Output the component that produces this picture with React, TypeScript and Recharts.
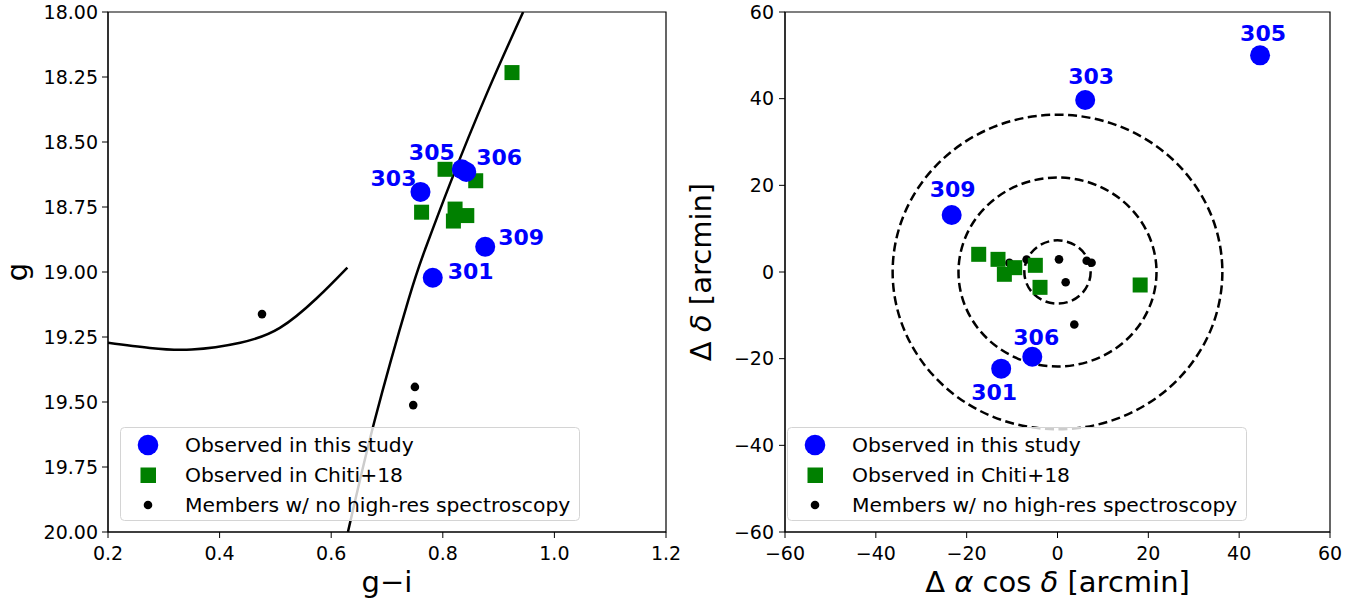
import { ComposedChart, Line, Scatter, XAxis, YAxis, ReferenceArea, Legend, Label } from 'recharts';

const FONT = 'DejaVu Sans';
const BLUE = '#0000ff';
const GREEN = '#008000';

// ---- left panel: colour-magnitude diagram ----
const cmdObserved = [
  { id: '301', x: 0.782, y: 19.022 },
  { id: '303', x: 0.760, y: 18.692 },
  { id: '305', x: 0.834, y: 18.605 },
  { id: '306', x: 0.842, y: 18.615 },
  { id: '309', x: 0.876, y: 18.903 },
];
const cmdChiti = [
  { x: 0.924, y: 18.233 },
  { x: 0.804, y: 18.605 },
  { x: 0.859, y: 18.649 },
  { x: 0.762, y: 18.770 },
  { x: 0.822, y: 18.758 },
  { x: 0.843, y: 18.783 },
  { x: 0.819, y: 18.804 },
];
const cmdMembers = [
  { x: 0.476, y: 19.162 },
  { x: 0.750, y: 19.442 },
  { x: 0.747, y: 19.512 },
];
const rgbBranch = [
  { x: 0.630, y: 20.0 },
  { x: 0.678, y: 19.57 },
  { x: 0.738, y: 19.11 },
  { x: 0.768, y: 18.915 },
  { x: 0.813, y: 18.66 },
  { x: 0.879, y: 18.313 },
  { x: 0.944, y: 18.0 },
];
const hbBranch = [
  { x: 0.2, y: 19.272 },
  { x: 0.275, y: 19.292 },
  { x: 0.35, y: 19.298 },
  { x: 0.437, y: 19.272 },
  { x: 0.508, y: 19.215 },
  { x: 0.574, y: 19.101 },
  { x: 0.629, y: 18.983 },
];
const cmdXTicks = [0.2, 0.4, 0.6, 0.8, 1.0, 1.2];
const cmdYTicks = [18, 18.25, 18.5, 18.75, 19, 19.25, 19.5, 19.75, 20];

// ---- right panel: sky positions ----
const skyObserved = [
  { id: '301', x: -12.4, y: -22.3 },
  { id: '303', x: 6.1, y: 39.7 },
  { id: '305', x: 44.6, y: 50.0 },
  { id: '306', x: -5.55, y: -19.55 },
  { id: '309', x: -23.3, y: 13.15 },
];
const skyChiti = [
  { x: -17.35, y: 4.08 },
  { x: -13.1, y: 2.92 },
  { x: -11.7, y: -0.53 },
  { x: -9.42, y: 1.0 },
  { x: -4.88, y: 1.54 },
  { x: -3.85, y: -3.54 },
  { x: 18.2, y: -3.0 },
];
const skyMembers = [
  { x: 0.33, y: 2.92 },
  { x: 1.8, y: -2.38 },
  { x: 3.7, y: -12.1 },
  { x: 6.43, y: 2.6 },
  { x: 7.5, y: 2.14 },
  { x: -6.8, y: 2.9 },
  { x: -10.6, y: 2.1 },
];
const skyRadii = [7.3, 21.8, 36.3];
const skyTicks = [-60, -40, -20, 0, 20, 40, 60];

// label placement next to the blue points: [dx, dy, anchor]
const cmdLabelPos: Record<string, [number, number, string]> = {
  '301': [15, 1, 'start'],
  '303': [-4, -6, 'end'],
  '305': [-7, -9, 'end'],
  '306': [10, -7, 'start'],
  '309': [13, -2, 'start'],
};
const skyLabelPos: Record<string, [number, number, string]> = {
  '301': [-7, 31, 'middle'],
  '303': [6, -16, 'middle'],
  '305': [3, -14, 'middle'],
  '306': [4, -12, 'middle'],
  '309': [1, -18, 'middle'],
};

const tickStyle = { fill: '#000', fontSize: 19, fontFamily: FONT };
const minus = (v: number) => (v < 0 ? `\u2212${Math.abs(v)}` : `${v}`);

const labelledDot = (pos: Record<string, [number, number, string]>) => (p: any) => {
  const [dx, dy, anchor] = pos[p.payload.id];
  return (
    <g>
      <circle cx={p.cx} cy={p.cy} r={10} fill={BLUE} />
      <text x={p.cx + dx} y={p.cy + dy} textAnchor={anchor as any} fill={BLUE}
        fontFamily={FONT} fontWeight="bold" fontSize={22}>{p.payload.id}</text>
    </g>
  );
};
const square = (p: any) => <rect x={p.cx - 7.5} y={p.cy - 7.5} width={15} height={15} fill={GREEN} />;
const smallDot = (p: any) => <circle cx={p.cx} cy={p.cy} r={4.3} fill="#000" />;

const ellipse = (p: any) => (
  <ellipse cx={p.x + p.width / 2} cy={p.y + p.height / 2} rx={Math.abs(p.width) / 2} ry={Math.abs(p.height) / 2}
    fill="none" stroke="#000" strokeWidth={2.5} strokeDasharray="9 4.5" />
);

function LegendBox() {
  const rows = [
    { text: 'Observed in this study', mark: <circle cx={28} cy={18} r={10.3} fill={BLUE} /> },
    { text: 'Observed in Chiti+18', mark: <rect x={20.5} y={40.5} width={15.5} height={15.5} fill={GREEN} /> },
    { text: 'Members w/ no high-res spectroscopy', mark: <circle cx={28} cy={78} r={4.3} fill="#000" /> },
  ];
  return (
    <svg width={460} height={94} style={{ display: 'block' }}>
      <rect x={0.5} y={0.5} width={459} height={93} rx={4} fill="rgba(255,255,255,0.8)" stroke="#d4d4d4" />
      {rows.map((r, i) => (
        <g key={r.text}>
          {r.mark}
          <text x={65} y={25 + i * 30} fontFamily={FONT} fontSize={20.3} fill="#000">{r.text}</text>
        </g>
      ))}
    </svg>
  );
}

const yTitle = (content: any, x: number) => (props: any) => {
  const vb = props.viewBox;
  const cy = vb.y + vb.height / 2;
  return (
    <text x={x} y={cy} transform={`rotate(-90, ${x}, ${cy})`} textAnchor="middle"
      fontFamily={FONT} fontSize={29} fill="#000">{content}</text>
  );
};
const xTitle = (content: any) => (props: any) => {
  const vb = props.viewBox;
  return (
    <text x={vb.x + vb.width / 2} y={592} textAnchor="middle" fontFamily={FONT} fontSize={29} fill="#000">{content}</text>
  );
};

function CmdPanel() {
  return (
    <ComposedChart width={680} height={603} margin={{ top: 12, right: 14, left: 0, bottom: 11 }}>
      <XAxis type="number" dataKey="x" domain={[0.2, 1.2]} ticks={cmdXTicks} allowDataOverflow height={60}
        tickFormatter={(v) => v.toFixed(1)} tick={tickStyle} tickSize={6} tickMargin={9}
        axisLine={{ stroke: '#000' }} tickLine={{ stroke: '#000' }}>
        <Label content={xTitle('g\u2212i')} />
      </XAxis>
      <YAxis type="number" dataKey="y" domain={[18, 20]} ticks={cmdYTicks} reversed allowDataOverflow width={108}
        tickFormatter={(v) => v.toFixed(2)} tick={tickStyle} tickSize={6} tickMargin={4}
        axisLine={{ stroke: '#000' }} tickLine={{ stroke: '#000' }}>
        <Label content={yTitle('g', 27)} />
      </YAxis>
      <Line data={hbBranch} dataKey="y" type="natural" stroke="#000" strokeWidth={2.5} dot={false} isAnimationActive={false} />
      <Line data={rgbBranch} dataKey="y" type="natural" stroke="#000" strokeWidth={2.5} dot={false} isAnimationActive={false} />
      <Scatter data={cmdMembers} dataKey="y" shape={smallDot} isAnimationActive={false} />
      <Scatter data={cmdChiti} dataKey="y" shape={square} isAnimationActive={false} />
      <Scatter data={cmdObserved} dataKey="y" shape={labelledDot(cmdLabelPos)} isAnimationActive={false} />
      <ReferenceArea x1={0.2} x2={1.2} y1={18} y2={20} fill="none" stroke="#000" strokeWidth={1.2} fillOpacity={0} />
      <Legend layout="vertical" align="center" verticalAlign="middle" content={() => <LegendBox />}
        wrapperStyle={{ left: 120, top: 427, width: 460, height: 94 }} />
    </ComposedChart>
  );
}

function SkyPanel() {
  return (
    <ComposedChart width={691} height={603} margin={{ top: 12, right: 41, left: 0, bottom: 11 }}>
      <XAxis type="number" dataKey="x" domain={[-60, 60]} ticks={skyTicks} allowDataOverflow height={60}
        tickFormatter={minus} tick={tickStyle} tickSize={6} tickMargin={9}
        axisLine={{ stroke: '#000' }} tickLine={{ stroke: '#000' }}>
        <Label content={xTitle(<>{'\u0394 '}<tspan fontStyle="italic">{'\u03b1'}</tspan>{' cos '}<tspan fontStyle="italic">{'\u03b4'}</tspan>{' [arcmin]'}</>)} />
      </XAxis>
      <YAxis type="number" dataKey="y" domain={[-60, 60]} ticks={skyTicks} allowDataOverflow width={105}
        tickFormatter={minus} tick={tickStyle} tickSize={6} tickMargin={5}
        axisLine={{ stroke: '#000' }} tickLine={{ stroke: '#000' }}>
        <Label content={yTitle(<>{'\u0394 '}<tspan fontStyle="italic">{'\u03b4'}</tspan>{' [arcmin]'}</>, 31)} />
      </YAxis>
      {skyRadii.map((r) => (
        <ReferenceArea key={r} x1={-r} x2={r} y1={-r} y2={r} shape={ellipse} />
      ))}
      <Scatter data={skyObserved} dataKey="y" shape={labelledDot(skyLabelPos)} isAnimationActive={false} />
      <Scatter data={skyMembers} dataKey="y" shape={smallDot} isAnimationActive={false} />
      <Scatter data={skyChiti} dataKey="y" shape={square} isAnimationActive={false} />
      <ReferenceArea x1={-60} x2={60} y1={-60} y2={60} fill="none" stroke="#000" strokeWidth={1.2} fillOpacity={0} />
      <Legend layout="vertical" align="center" verticalAlign="middle" content={() => <LegendBox />}
        wrapperStyle={{ left: 107, top: 427, width: 460, height: 94 }} />
    </ComposedChart>
  );
}

export default function App() {
  return (
    <div style={{ position: 'absolute', left: 0, top: 0, width: 1371, height: 603, background: '#fff' }}>
      <div style={{ position: 'absolute', left: 0, top: 0 }}>
        <CmdPanel />
      </div>
      <div style={{ position: 'absolute', left: 680, top: 0 }}>
        <SkyPanel />
      </div>
    </div>
  );
}
